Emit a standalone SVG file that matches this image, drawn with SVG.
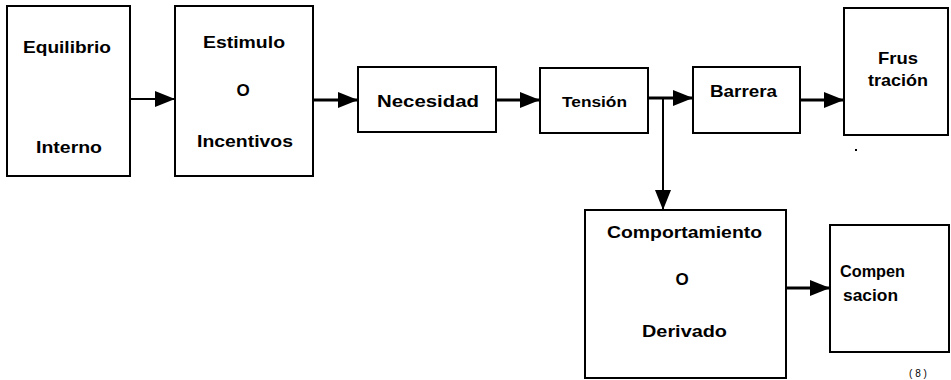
<svg xmlns="http://www.w3.org/2000/svg" width="951" height="380" viewBox="0 0 951 380">
  <style>
    .box { fill: #ffffff; stroke: #000000; stroke-width: 2; }
    .lbl { font-family: "Liberation Sans", Arial, sans-serif; font-size: 17px; font-weight: bold; fill: #000000; }
    .sm { font-size: 14px; }
    .tiny { font-size: 10px; font-weight: normal; }
    .wire { stroke: #000000; stroke-width: 3; fill: none; }
    .thin { stroke-width: 2; }
  </style>
  <defs>
    <marker id="head" markerUnits="userSpaceOnUse" markerWidth="21" markerHeight="17" refX="20" refY="8" orient="auto">
      <path d="M0,0 L20,8 L0,16 Z" fill="#000000"/>
    </marker>
  </defs>

  <rect x="0" y="0" width="951" height="380" fill="#ffffff"/>

  <g id="connectors">
    <line class="wire thin" x1="130" y1="99" x2="175" y2="99" marker-end="url(#head)"/>
    <line class="wire" x1="313" y1="100" x2="358" y2="100" marker-end="url(#head)"/>
    <line class="wire" x1="496" y1="100" x2="540" y2="100" marker-end="url(#head)"/>
    <line class="wire" x1="648" y1="98" x2="693" y2="98" marker-end="url(#head)"/>
    <line class="wire thin" x1="663" y1="98" x2="663" y2="210" marker-end="url(#head)"/>
    <line class="wire" x1="800" y1="100" x2="844" y2="100" marker-end="url(#head)"/>
    <line class="wire" x1="786" y1="288" x2="830" y2="288" marker-end="url(#head)"/>
  </g>

  <g id="equilibrio">
    <rect class="box" x="7" y="6" width="123" height="170"/>
    <text class="lbl" x="23" y="53" textLength="88" lengthAdjust="spacingAndGlyphs">Equilibrio</text>
    <text class="lbl" x="36" y="153" textLength="66" lengthAdjust="spacingAndGlyphs">Interno</text>
  </g>

  <g id="estimulo">
    <rect class="box" x="175" y="6" width="138" height="170"/>
    <text class="lbl" x="203" y="48" textLength="82" lengthAdjust="spacingAndGlyphs">Estimulo</text>
    <text class="lbl" x="243" y="96" text-anchor="middle">O</text>
    <text class="lbl" x="197" y="147" textLength="96" lengthAdjust="spacingAndGlyphs">Incentivos</text>
  </g>

  <g id="necesidad">
    <rect class="box" x="358" y="67" width="138" height="65"/>
    <text class="lbl" x="377" y="107" textLength="102" lengthAdjust="spacingAndGlyphs">Necesidad</text>
  </g>

  <g id="tension">
    <rect class="box" x="540" y="68" width="108" height="65"/>
    <text class="lbl sm" x="562" y="107" textLength="65" lengthAdjust="spacingAndGlyphs">Tensión</text>
  </g>

  <g id="barrera">
    <rect class="box" x="693" y="67" width="107" height="66"/>
    <text class="lbl" x="710" y="97" textLength="67" lengthAdjust="spacingAndGlyphs">Barrera</text>
  </g>

  <g id="frustracion">
    <rect class="box" x="844" y="8" width="104" height="127"/>
    <text class="lbl" x="878" y="64" textLength="40" lengthAdjust="spacingAndGlyphs">Frus</text>
    <text class="lbl" x="868" y="86" textLength="60" lengthAdjust="spacingAndGlyphs">tración</text>
    <rect x="855" y="149" width="2" height="2" fill="#000000"/>
  </g>

  <g id="comportamiento">
    <rect class="box" x="585" y="210" width="201" height="168"/>
    <text class="lbl" x="607" y="238" textLength="155" lengthAdjust="spacingAndGlyphs">Comportamiento</text>
    <text class="lbl" x="682" y="285" text-anchor="middle">O</text>
    <text class="lbl" x="642" y="337" textLength="85" lengthAdjust="spacingAndGlyphs">Derivado</text>
  </g>

  <g id="compensacion">
    <rect class="box" x="830" y="225" width="119" height="127"/>
    <text class="lbl" x="840" y="277" textLength="65" lengthAdjust="spacingAndGlyphs">Compen</text>
    <text class="lbl" x="843" y="301" textLength="55" lengthAdjust="spacingAndGlyphs">sacion</text>
  </g>

  <text class="lbl tiny" x="918" y="377" text-anchor="middle">( 8 )</text>
</svg>
